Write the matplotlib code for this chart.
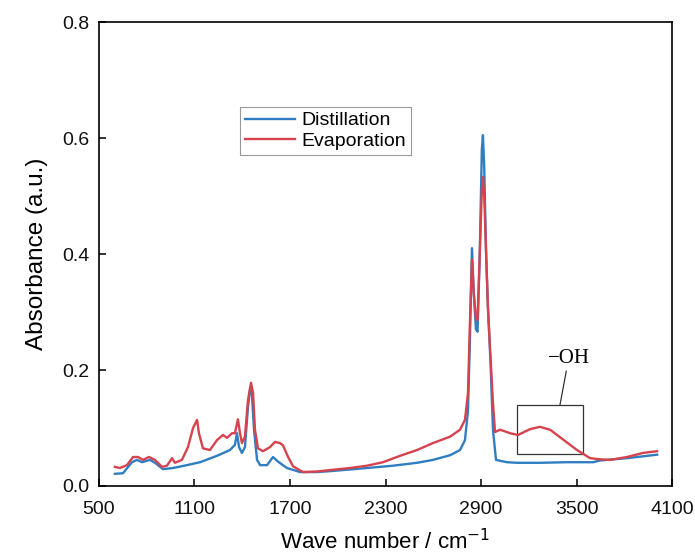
import matplotlib
matplotlib.use("Agg")
import matplotlib.pyplot as plt
from matplotlib.patches import Rectangle

plt.rcParams['font.family'] = ['Liberation Sans', 'DejaVu Sans']

# Distillation (blue)
dist_wn = [600, 651, 707, 739, 770, 820, 852, 902, 965, 1053, 1135, 1241, 1323, 1354,
           1367, 1380, 1398, 1417, 1436, 1450, 1458, 1474, 1493, 1512, 1556, 1593, 1625,
           1681, 1763, 1870, 1970, 2184, 2347, 2498, 2598, 2705, 2768, 2799, 2818, 2830,
           2843, 2855, 2868, 2878, 2892, 2905, 2912, 2920, 2932, 2943, 2960, 2975, 2994,
           3063, 3126, 3270, 3440, 3604, 3648, 3817, 4006]
dist_abs = [0.021, 0.022, 0.041, 0.045, 0.041, 0.045, 0.040, 0.029, 0.031, 0.036, 0.041,
            0.052, 0.062, 0.071, 0.091, 0.067, 0.057, 0.067, 0.136, 0.168, 0.171, 0.097,
            0.045, 0.036, 0.036, 0.050, 0.042, 0.031, 0.024, 0.024, 0.026, 0.031, 0.035,
            0.040, 0.045, 0.053, 0.062, 0.079, 0.130, 0.25, 0.41, 0.33, 0.27, 0.266, 0.40,
            0.58, 0.605, 0.55, 0.40, 0.31, 0.21, 0.097, 0.045, 0.041, 0.040, 0.040, 0.041,
            0.041, 0.044, 0.048, 0.054]

# Evaporation (red)
evap_wn = [600, 632, 676, 714, 745, 776, 814, 852, 896, 927, 959, 977, 1021, 1059, 1091,
           1116, 1128, 1153, 1197, 1241, 1279, 1304, 1336, 1354, 1373, 1386, 1398, 1417,
           1436, 1455, 1468, 1480, 1499, 1530, 1574, 1606, 1637, 1656, 1688, 1719, 1782,
           1870, 1970, 2077, 2184, 2284, 2391, 2498, 2598, 2705, 2768, 2799, 2818, 2830,
           2843, 2855, 2868, 2878, 2892, 2905, 2912, 2920, 2932, 2943, 2960, 2975, 2988,
           3019, 3063, 3082, 3132, 3208, 3270, 3334, 3416, 3503, 3585, 3648, 3711, 3817,
           3918, 4006]
evap_abs = [0.033, 0.031, 0.036, 0.050, 0.050, 0.045, 0.050, 0.045, 0.033, 0.035, 0.048,
            0.040, 0.045, 0.067, 0.100, 0.114, 0.091, 0.065, 0.062, 0.079, 0.088, 0.083,
            0.091, 0.091, 0.115, 0.091, 0.074, 0.085, 0.148, 0.178, 0.160, 0.097, 0.065,
            0.060, 0.067, 0.076, 0.074, 0.070, 0.050, 0.034, 0.024, 0.025, 0.028, 0.031,
            0.035, 0.041, 0.052, 0.062, 0.074, 0.085, 0.097, 0.114, 0.160, 0.28, 0.39,
            0.33, 0.29, 0.286, 0.40, 0.51, 0.533, 0.50, 0.40, 0.31, 0.22, 0.143, 0.093,
            0.097, 0.093, 0.091, 0.088, 0.098, 0.102, 0.097, 0.080, 0.062, 0.048, 0.046,
            0.045, 0.050, 0.057, 0.060]

x_ticks = [500, 1100, 1700, 2300, 2900, 3500, 4100]
y_ticks = [0.0, 0.2, 0.4, 0.6, 0.8]

fig = plt.figure(figsize=(6.95, 5.59), dpi=100)
ax = fig.add_axes([0.1424, 0.1306, 0.8246, 0.83])

ax.plot(dist_wn, dist_abs, color='#2F7EC1', lw=1.7, label='Distillation')
ax.plot(evap_wn, evap_abs, color='#D6434E', lw=1.7, label='Evaporation')

ax.add_patch(Rectangle((3126, 0.055), 415, 0.085, fill=False, edgecolor='#333333', lw=0.9))
ax.annotate('\u2212OH', xy=(3396, 0.140), xytext=(3450, 0.203),
            ha='center', va='bottom', fontsize=15, family='Liberation Serif',
            arrowprops=dict(arrowstyle='-', color='#333333', lw=0.9, shrinkA=0, shrinkB=0))

ax.set_xlim(500, 4100)
ax.set_ylim(0, 0.8)
ax.set_xticks(x_ticks)
ax.set_yticks(y_ticks)
ax.set_yticklabels([f'{v:.1f}' for v in y_ticks])
ax.tick_params(direction='in', length=5, width=1.2, labelsize=14, colors='#111111')
ax.tick_params(axis='x', pad=11)
ax.tick_params(axis='y', pad=7)
for s in ax.spines.values():
    s.set_linewidth(1.2)

ax.set_xlabel('Wave number / cm$^{-1}$', fontsize=16, labelpad=8)
ax.set_ylabel('Absorbance (a.u.)', fontsize=17.5, labelpad=10)

leg = ax.legend(loc='upper left', bbox_to_anchor=(0.246, 0.817), borderaxespad=0,
                fontsize=14, fancybox=False, framealpha=1, edgecolor='#999999',
                handlelength=2.6, handletextpad=0.3, borderpad=0.25, labelspacing=0.15)
leg.get_frame().set_linewidth(0.8)

fig.savefig('out.png', dpi=100)
